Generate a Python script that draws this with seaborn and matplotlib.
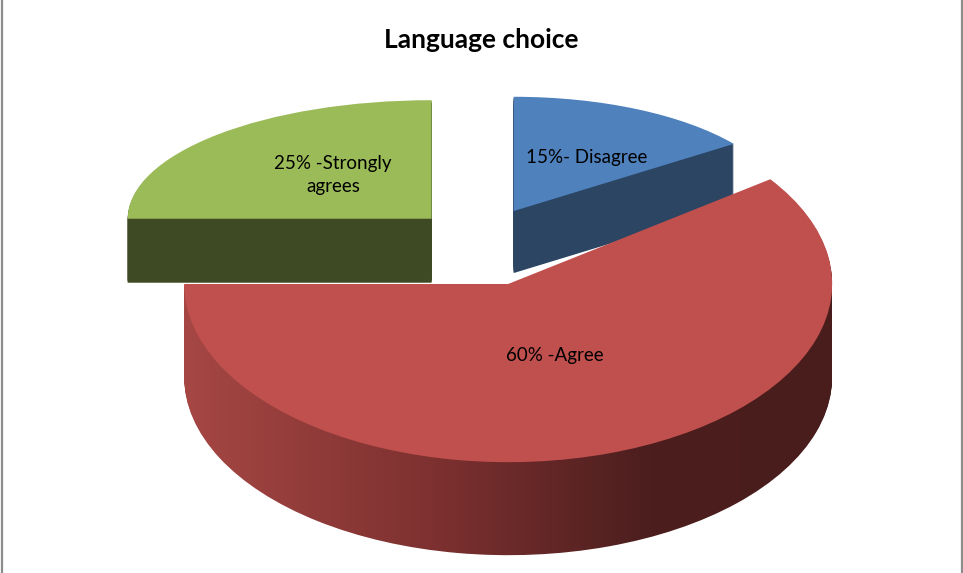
import numpy as np
import matplotlib
matplotlib.use("Agg")
import matplotlib.pyplot as plt
from matplotlib.colors import LinearSegmentedColormap
import seaborn as sns

# data
labels = ["15%- Disagree", "60% -Agree", "25% -Strongly\nagrees"]
shares = [15, 60, 25]

# look of each slice (Excel style 3D pie faked with stacked 2D pies)
top_colors = ["#4f81bd", "#c0504d", "#9bbb59"]
side_colors = ["#2b4563", "#7b302f", "#3e4a23"]
radii = [0.907, 1.08, 1.013]
explode = [0.24, 0.293, 0.233]
squash = [0.42, 0.55, 0.39]      # vertical squash per slice (fake perspective)
depth_px = [62, 93, 64]
draw_order = [2, 0, 1]           # back slices first, red one in front
label_pos = [(587, 158), (555, 355), (333, 175)]

W, H, UNIT = 963, 573, 300.0
CX, CY = 481, 238                # pie centre in pixels (y from top)

sns.set_theme(style="white")
plt.rcParams["font.family"] = ["Lato", "DejaVu Sans"]

fig = plt.figure(figsize=(W / 100, H / 100), dpi=100)
fig.patch.set_facecolor("white")

red_cmap = LinearSegmentedColormap.from_list(
    "red_side", [(0, "#a64744"), (0.4, "#7b302f"), (0.72, "#4c1e1e"), (1, "#4a1d1d")])
grad = np.linspace(0, 1, 256).reshape(1, -1)


def one_wedge(ax, i, dy):
    wedges, texts = ax.pie(shares, startangle=90, counterclock=False,
                           radius=radii[i], explode=explode, center=(0, dy),
                           wedgeprops=dict(linewidth=0))
    for j, w in enumerate(wedges):
        if j != i:
            w.remove()
    for t in texts:
        t.remove()
    return wedges[i]


for i in draw_order:
    k = squash[i]
    ax = fig.add_axes([0, 0, 1, 1])
    ax.patch.set_alpha(0)
    depth = depth_px[i] / (UNIT * k)
    n = depth_px[i]
    for dy in np.linspace(-depth, 0, n, endpoint=False):
        w = one_wedge(ax, i, dy)
        w.set_facecolor(side_colors[i])
        if i == 1:
            im = ax.imshow(grad, cmap=red_cmap, aspect="auto",
                           extent=((184 - CX) / UNIT, (832 - CX) / UNIT,
                                   -3 / k, 3 / k),
                           interpolation="bilinear")
            im.set_clip_path(w)
            w.set_facecolor("none")
    top = one_wedge(ax, i, 0)
    top.set_facecolor(top_colors[i])
    ax.set_aspect("auto")
    ax.set_xlim(-CX / UNIT, (W - CX) / UNIT)
    ax.set_ylim(-(H - CY) / (UNIT * k), CY / (UNIT * k))
    ax.set_axis_off()

for lab, (x, y) in zip(labels, label_pos):
    fig.text(x / W, 1 - y / H, lab, ha="center", va="center",
             fontsize=13.5, color="black", linespacing=1.45)

fig.text(481 / W, 1 - 40 / H, "Language choice", ha="center", va="center",
         fontsize=19, fontweight="bold", color="black")

# thin grey frame lines left and right, like the exported chart
for xl in (1.5 / W, 961.5 / W):
    fig.add_artist(plt.Line2D([xl, xl], [0, 1], color="#8c8c8c", lw=1.6,
                              transform=fig.transFigure))

fig.savefig("out.png", dpi=100, facecolor="white")
